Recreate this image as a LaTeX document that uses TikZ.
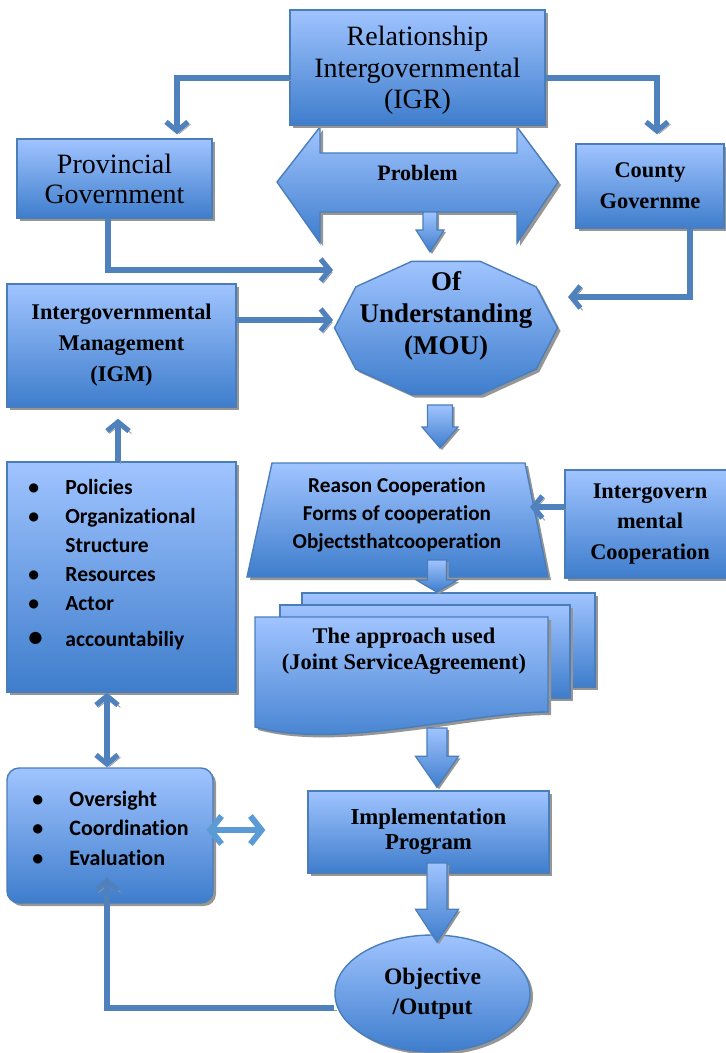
\documentclass[tikz,border=0pt]{standalone}
\usepackage{fontspec}
\setmainfont{Liberation Serif}
\newfontfamily\calib[RawFeature={-liga}]{Carlito}
\usetikzlibrary{arrows.meta, calc, shapes.geometric, shadows}
\definecolor{boxtop}{RGB}{160,196,255}
\definecolor{boxbot}{RGB}{62,125,204}
\definecolor{boxline}{RGB}{74,126,187}
\definecolor{linkblue}{RGB}{79,129,189}
\definecolor{lightlink}{RGB}{91,155,213}
\definecolor{shadowgray}{RGB}{150,150,150}

\tikzset{
  box/.style={draw=boxline, line width=0.7pt, top color=boxtop, bottom color=boxbot,
    general shadow={shadow xshift=1.5pt, shadow yshift=-1.5pt, fill=shadowgray}},
  blockarr/.style={draw=boxline, line width=0.6pt, top color=boxtop, bottom color=boxbot,
    general shadow={shadow xshift=1pt, shadow yshift=-1pt, fill=shadowgray}},
  conn/.style={draw=linkblue, line width=2.6pt, -{Straight Barb[length=4.5pt,width=11pt]},
    preaction={draw=shadowgray, transform canvas={shift={(1.2pt,-1.2pt)}}}},
  dblink/.style={draw=lightlink, line width=3pt,
    {Straight Barb[length=5.5pt,width=14pt]}-{Straight Barb[length=5.5pt,width=14pt]}},
  rm/.style={align=center, font=\fontsize{14}{15.75}\selectfont},
  bf/.style={align=center, font=\fontsize{11.2}{15.5}\selectfont\bfseries},
  sansbf/.style={font=\calib\bfseries\fontsize{10.8}{14.5}\selectfont}
}

% wide block arrow from #1 down to the tip #2
\newcommand{\blockarrow}[5]{%
  \path[blockarr] let \p1=#1, \p2=#2 in
    (\x2-#3,\y1) -- (\x2-#3,\y2+#5) -- (\x2-#4,\y2+#5) -- (\x2,\y2)
    -- (\x2+#4,\y2+#5) -- (\x2+#3,\y2+#5) -- (\x2+#3,\y1) -- cycle;}

\begin{document}
\begin{tikzpicture}[x=0.5pt,y=-0.5pt]
  \useasboundingbox (0,0) rectangle (725,1053);

  % Problem: left-right arrow under the IGR box
  \path[box] (277,182) -- (320,127) -- (320,153) -- (517,153) -- (517,127) -- (558,182)
    -- (517,243) -- (517,212) -- (320,212) -- (320,243) -- cycle;
  \node[bf, font=\fontsize{11}{13}\selectfont\bfseries] (problem) at (417.5,173) {Problem};

  % Top row
  \node[box, rm, minimum width=127.5pt, minimum height=57.5pt] (igr) at (417.5,67.5)
    {\\[-3pt]Relationship\\Intergovernmental\\(IGR)};
  \node[box, rm, font=\fontsize{14}{15}\selectfont, minimum width=97.5pt, minimum height=39.5pt]
    (prov) at (114.5,178.5) {Provincial\\Government};
  \node[box, bf, minimum width=74pt, minimum height=42pt] (county) at (650,186) {County\\Governme};

  % MOU decagon
  \path[box, shift={(446,328)}] (0:111.5 and 70)
    \foreach \a in {36,72,...,324}{ -- (\a:111.5 and 70)} -- cycle;
  \node[bf, font=\fontsize{13.5}{16}\selectfont\bfseries] (mou) at (446,316)
    {Of\\Understanding\\(MOU)};

  % Left column
  \node[box, bf, minimum width=114.5pt, minimum height=61.5pt] (igm) at (121.5,345.5)
    {Intergovernmental\\Management\\(IGM)};
  \node[box, minimum width=114.5pt, minimum height=115pt] (policies) at (121.5,577) {};
  \node[sansbf, anchor=base west, inner sep=0pt] (policylist) at (28,494)
    {\begin{tabular}[t]{@{}p{18.5pt}@{}l@{}}
      \textbullet & Policies\\
      \textbullet & Organizational\\
                  & Structure\\
      \textbullet & Resources\\
      \textbullet & Actor\\[3.5pt]
      {\Large\textbullet} & accountabiliy
    \end{tabular}};

  % Cooperation trapezium and side box
  \path[box] (272,463) -- (525,463) -- (548,577) -- (247,577) -- cycle;
  \node[sansbf, align=center, font=\calib\bfseries\fontsize{10.6}{14}\selectfont] (reason)
    at (397,515) {Reason Cooperation\\Forms of cooperation\\Objectsthatcooperation};
  \node[box, bf, font=\fontsize{11.2}{15.25}\selectfont\bfseries, minimum width=85pt,
    minimum height=54pt] (igc) at (650,524) {Intergovern\\mental\\Cooperation};

  % Stacked documents
  \path[box] (302,593) rectangle (595,687);
  \path[box] (280,605) rectangle (570,698);
  \path[box] (255,617) -- (548,617) -- (548,712)
    .. controls (470,712) and (340,750) .. (255,727) -- cycle;
  \node[bf, font=\fontsize{11.2}{13}\selectfont\bfseries] (approach) at (404,651)
    {The approach used\\(Joint ServiceAgreement)};

  % Bottom part
  \node[box, bf, font=\fontsize{11.4}{12.5}\selectfont\bfseries, minimum width=120.5pt,
    minimum height=41pt] (impl) at (428.5,832) {Implementation\\Program};
  \node[box, rounded corners=6pt, minimum width=103pt, minimum height=67.5pt]
    (oversight) at (110,835.5) {};
  \node[sansbf, font=\calib\bfseries\fontsize{11}{14.75}\selectfont, anchor=base west,
    inner sep=0pt] (overlist) at (32,806)
    {\begin{tabular}[t]{@{}p{18.5pt}@{}l@{}}
      \textbullet & Oversight\\
      \textbullet & Coordination\\
      \textbullet & Evaluation
    \end{tabular}};
  \node[box, ellipse, inner sep=0pt, bf, font=\fontsize{11.8}{15}\selectfont\bfseries,
    minimum width=97.5pt, minimum height=58.5pt] (obj) at (432.5,993.5) {Objective\\/Output};

  % Line connectors
  \draw[conn] ([yshift=-5.25pt]igr.west) -| ([xshift=31.25pt,yshift=2pt]prov.north);
  \draw[conn] ([yshift=-5.25pt]igr.east) -| ([xshift=3.5pt,yshift=4.5pt]county.north);
  \draw[conn] ([xshift=-3.25pt]prov.south) |- ([shift={(-56.5pt,23pt)}]mou.center);
  \draw[conn] ([yshift=12.75pt]igm.east) -- ([shift={(-56.5pt,-2pt)}]mou.center);
  \draw[conn] ([xshift=20pt]county.south) |- ([shift={(61pt,9.5pt)}]mou.center);
  \draw[conn] ([yshift=8.5pt]igc.west) -- ([shift={(66.5pt,4pt)}]reason.center);
  \draw[conn] ([xshift=-1.75pt]policies.north) -- ([xshift=-1.75pt,yshift=-5.5pt]igm.south);
  \draw[conn, {Straight Barb[length=4.5pt,width=11pt]}-{Straight Barb[length=4.5pt,width=11pt]}]
    ([xshift=-7.25pt]policies.south) -- ([xshift=-1.5pt]oversight.north);
  \draw[conn] ([yshift=-7.25pt]obj.west) -| ([xshift=-1.5pt,yshift=13pt]oversight.south);
  \draw[dblink] ([shift={(-3.5pt,2.75pt)}]oversight.east) -- ([shift={(-21pt,1pt)}]impl.west);

  % Block arrows down the middle
  \blockarrow{([shift={(6.25pt,-19.5pt)}]problem.center)}{([shift={(-8pt,32pt)}]mou.center)}{3.5pt}{7pt}{11pt}
  \blockarrow{([shift={(-3pt,-44.5pt)}]mou.center)}{([shift={(21.5pt,33.5pt)}]reason.center)}{6.25pt}{9pt}{10.5pt}
  \blockarrow{([shift={(20pt,-22.5pt)}]reason.center)}{([shift={(16.5pt,29.5pt)}]approach.center)}{4.75pt}{10.25pt}{6pt}
  \blockarrow{([shift={(16.5pt,-38.5pt)}]approach.center)}{([shift={(4.25pt,1.5pt)}]impl.north)}{5pt}{10.75pt}{15.5pt}
  \blockarrow{([shift={(4.25pt,-15.5pt)}]impl.center)}{([shift={(2.25pt,-4pt)}]obj.north)}{5pt}{10.75pt}{16.5pt}
\end{tikzpicture}
\end{document}
